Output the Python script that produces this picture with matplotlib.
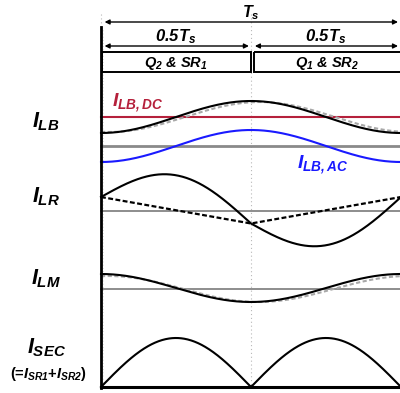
import numpy as np
import matplotlib
matplotlib.use("Agg")
import matplotlib.pyplot as plt
from matplotlib.patches import Rectangle

plt.rcParams['font.family'] = ['Liberation Sans', 'DejaVu Sans']
plt.rcParams['mathtext.fontset'] = 'custom'
plt.rcParams['mathtext.rm'] = 'Liberation Sans:bold:italic'
plt.rcParams['mathtext.it'] = 'Liberation Sans:bold:italic'
plt.rcParams['mathtext.bf'] = 'Liberation Sans:bold:italic'

# --- waveform values, one switching period (t = 0 .. 1) ---
panel_labels = [r'$I_{LB}$', r'$I_{LR}$', r'$I_{LM}$', r'$I_{SEC}$']
sec_note = r'(=$I_{SR1}$+$I_{SR2}$)'
header_half = [r'$0.5T_s$', r'$0.5T_s$']
header_boxes = [r'$Q_2$ & $SR_1$', r'$Q_1$ & $SR_2$']

lb_dc = 29.0          # I_LB,DC level
lb_ac = 16.0          # I_LB,AC amplitude
lb_ref_amp = 15.0     # gray dotted reference
lb_ref_lag = 0.03

lm_tri_t = [0.0, 0.5, 1.0]     # magnetizing current (triangular) in I_LR panel
lm_tri = [14.0, -12.5, 14.0]
lr_sec = 35.0                  # reflected secondary amplitude

lm_avg = 1.0
lm_amp = 14.0
lm_ref_amp = 13.0
lm_ref_lag = 0.025

sec_peak = 49.0

# layout (pixel rows of each panel's zero line)
base_lb, base_lr, base_lm, base_sec = 146, 211, 289, 387
label_rows = [127, 202, 284, 353]

red = '#b5203b'
blue = '#1a1aff'

fig = plt.figure(figsize=(4, 3.93), dpi=100)
ax = fig.add_axes([0, 0, 1, 1])
ax.set_xlim(-101 / 300, 299 / 300)
ax.set_ylim(393, 0)
ax.axis('off')

t = np.linspace(0, 1, 600)
w = 2 * np.pi * t
xr = 1.05

# vertical dotted guides
for xv in [0, 0.5]:
    ax.plot([xv, xv], [14, base_sec], color='#b8b8b8', lw=0.8, ls=(0, (1, 2.5)), zorder=1)
ax.plot([0.007, 0.007], [30, base_sec], color='#c8c8c8', lw=0.6, ls=(0, (0.8, 3)), zorder=1)

# header
def arrow(x0, x1, y):
    ax.annotate('', xy=(x0, y), xytext=(x1, y),
                arrowprops=dict(arrowstyle='<|-|>', lw=1.0, color='k',
                                mutation_scale=7, shrinkA=0, shrinkB=0))

arrow(0.012, 0.99, 22)
ax.text(0.5, 17, r'$T_s$', ha='center', va='baseline', fontsize=11.5)
arrow(0.012, 0.493, 46)
arrow(0.513, 0.99, 46)
for xc, s in zip([0.25, 0.75], header_half):
    ax.text(xc, 41, s, ha='center', va='baseline', fontsize=12)
ax.add_patch(Rectangle((0.004, 52), 0.496, 20, fill=False, ec='k', lw=1.4))
ax.add_patch(Rectangle((0.51, 52), 0.6, 20, fill=False, ec='k', lw=1.4))
for xc, s in zip([0.25, 0.755], header_boxes):
    ax.text(xc, 67, s, ha='center', va='baseline', fontsize=10.5,
            fontweight='bold', style='italic')

# I_LB panel
ax.plot([0, xr], [base_lb, base_lb], color='#8a8a8a', lw=2.0, zorder=2)
ax.plot([0, xr], [base_lb - lb_dc] * 2, color=red, lw=1.5, zorder=3)
ax.plot(t, base_lb - (lb_dc - lb_ref_amp * np.cos(w - 2 * np.pi * lb_ref_lag)),
        color='#a8a8a8', lw=1.5, ls=(0, (2, 1.2)), zorder=3)
ax.plot(t, base_lb - (lb_dc - lb_ac * np.cos(w)), color='k', lw=1.5, zorder=4)
ax.plot(t, base_lb + lb_ac * np.cos(w), color=blue, lw=1.5, zorder=4)
ax.text(0.037, 107, r'$I_{LB,DC}$', color=red, fontsize=14, va='baseline')
ax.text(0.653, 168, r'$I_{LB,AC}$', color=blue, fontsize=14, va='baseline')

# I_LR panel
tri = np.interp(t, lm_tri_t, lm_tri)
ax.plot([0, xr], [base_lr, base_lr], color='#7a7a7a', lw=1.2, zorder=2)
ax.plot(lm_tri_t, [base_lr - v for v in lm_tri], color='k', lw=1.6,
        ls=(0, (2.2, 1.1)), zorder=3)
ax.plot(t, base_lr - (tri + lr_sec * np.sin(w)), color='k', lw=1.5, zorder=4)

# I_LM panel
ax.plot([0, xr], [base_lm, base_lm], color='#7a7a7a', lw=1.2, zorder=2)
ax.plot(t, base_lm - (lm_avg + lm_ref_amp * np.cos(w - 2 * np.pi * lm_ref_lag) - 1.0),
        color='#a8a8a8', lw=1.5, ls=(0, (2, 1.2)), zorder=3)
ax.plot(t, base_lm - (lm_avg + lm_amp * np.cos(w)), color='k', lw=1.5, zorder=4)

# I_SEC panel
ax.plot(t, base_sec - sec_peak * np.abs(np.sin(w)), color='k', lw=1.5, zorder=4)

# axes lines
ax.plot([0, 0], [27, base_sec + 1], color='k', lw=2.0, zorder=5)
ax.plot([0, xr], [base_sec, base_sec], color='k', lw=2.2, zorder=5)

# left labels
for s, yb in zip(panel_labels, label_rows):
    ax.text(-0.183, yb, s, ha='center', va='baseline', fontsize=15.5)
ax.text(-0.175, 378, sec_note, ha='center', va='baseline', fontsize=10.5,
        fontweight='bold')

fig.savefig('out.png', dpi=100)
